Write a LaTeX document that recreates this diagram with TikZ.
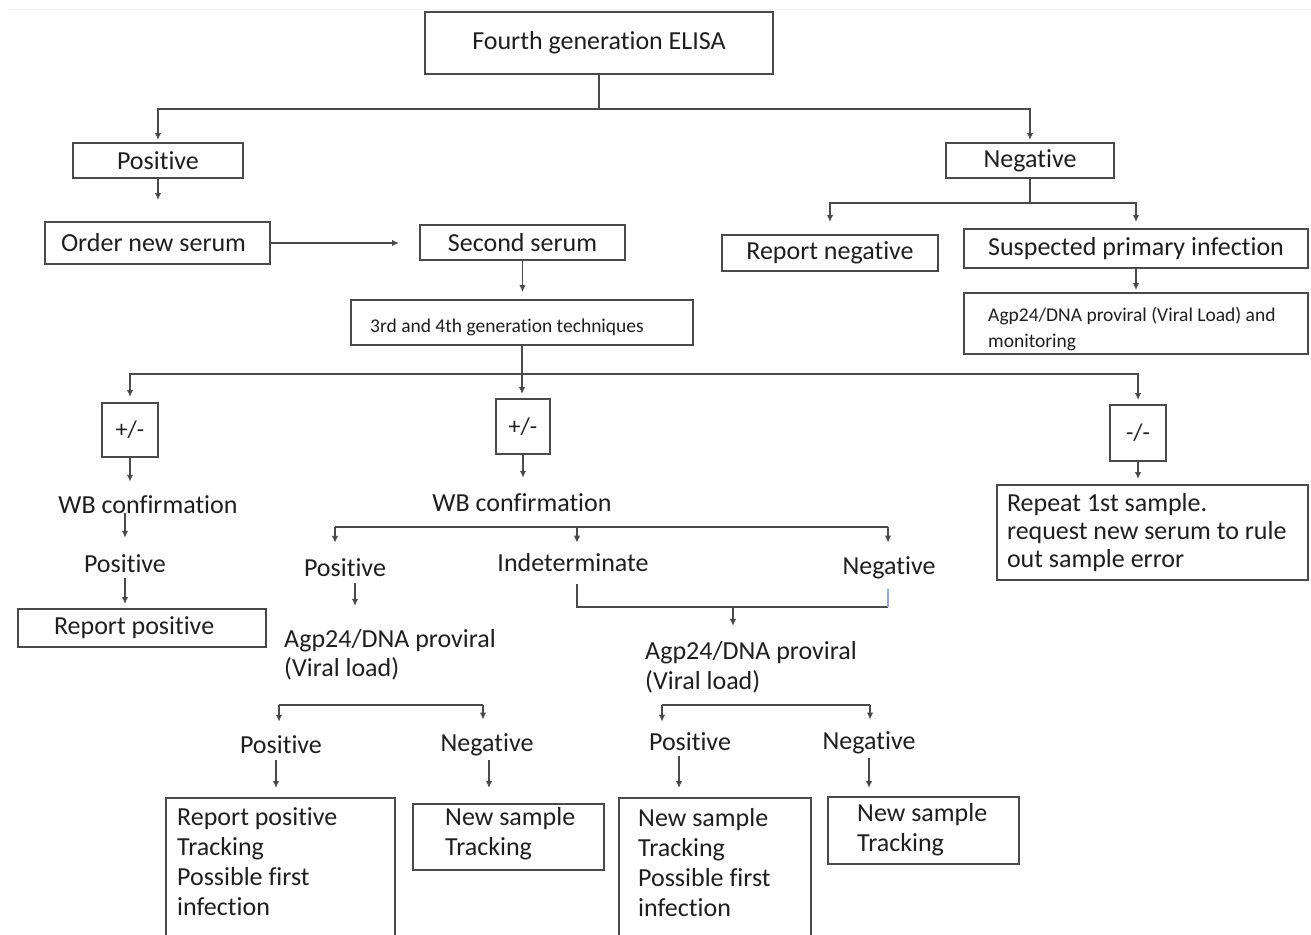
\documentclass[tikz,border=0pt]{standalone}
\usepackage{fontspec}
\setmainfont{Carlito}[Ligatures={NoCommon}]
\usetikzlibrary{arrows.meta,calc}
\definecolor{ink}{HTML}{1E1E1E}
\definecolor{edge}{HTML}{4A4A4A}
\definecolor{linkblue}{HTML}{8EA9DB}
% keep the font's own word spacing inside fixed-width nodes
\newcommand\natspace{\spaceskip=0pt\xspaceskip=0pt\relax}

\begin{document}
\begin{tikzpicture}[x=1pt,y=-1pt,
  every node/.style={text=ink, font=\fontsize{26}{30}\selectfont},
  box/.style={draw=edge, line width=1.9pt, inner sep=0pt},
  lbl/.style={inner sep=2pt},
  small/.style={font=\fontsize{19.5}{26}\selectfont},
  line/.style={draw=edge, line width=1.8pt},
  arr/.style={line, -{Latex[length=7pt,width=6.5pt]}},
]
\useasboundingbox (0,0) rectangle (1311,934);
\clip (0,0) rectangle (1311,934);
\draw[black!6, line width=1pt] (8,10) -- (1311,10);

% ---------- first screening ----------
\node[box, minimum width=348pt, minimum height=62pt] (elisa) at (599,43) {Fourth generation ELISA};
\node[box, minimum width=170pt, minimum height=35pt] (pos1) at (158,160.5) {Positive};
\node[box, minimum width=168pt, minimum height=35pt] (neg1) at (1030,160.5) {Negative};
\node[box, minimum width=225pt, minimum height=42pt, text width=193pt, align=left] (order) at (157.5,243) {\natspace Order new serum};
\node[box, minimum width=205pt, minimum height=35pt] (second) at (522.5,242.5) {Second serum};
\node[box, minimum width=342pt, minimum height=45pt] (tech) at (522,322.5) {};
\node[lbl, small, anchor=west] (techt) at (368,327) {3rd and 4th generation techniques};

% ---------- negative branch ----------
\node[box, minimum width=216pt, minimum height=36pt] (repneg) at (830,253) {Report negative};
\node[box, minimum width=344pt, minimum height=39pt] (susp) at (1136,248.5) {Suspected primary infection};
\node[box, minimum width=344pt, minimum height=61pt] (agpA) at (1136,323.5) {};
\node[lbl, small, anchor=north west, align=left] (agpAt) at (986,305) {Agp24/DNA proviral (Viral Load) and\\monitoring};

% ---------- second serum results ----------
\node[box, font=\fontsize{24}{28}\selectfont, minimum width=56pt, minimum height=54pt] (pmA) at (130,430) {+/-};
\node[box, font=\fontsize{24}{28}\selectfont, minimum width=54pt, minimum height=55pt] (pmB) at (523,426.5) {+/-};
\node[box, font=\fontsize{24}{28}\selectfont, minimum width=56pt, minimum height=56pt] (mm) at (1138,433) {-/-};

\node[lbl] (wbA) at (148,505) {WB confirmation};
\node[lbl] (wbB) at (522,503) {WB confirmation};
\node[box, font=\fontsize{26}{28}\selectfont, minimum width=311pt, minimum height=95pt, text width=291pt, align=left] (repeat) at (1152.5,532.5) {\natspace Repeat 1st sample.\\request new serum to rule\\out sample error};

% left column
\node[lbl] (posA) at (125,564) {Positive};
\node[box, minimum width=248pt, minimum height=38pt, text width=176pt, align=left] (reppos) at (142,628) {\natspace Report positive};

% middle column
\node[lbl] (posB) at (345,568) {Positive};
\node[lbl] (ind) at (573,563) {Indeterminate};
\node[lbl] (negB) at (889,568) {Negative};
\node[lbl, anchor=west, align=left, font=\fontsize{26}{29}\selectfont] (agpB) at (282,654.5) {Agp24/DNA proviral\\(Viral load)};
\node[lbl, anchor=west, align=left] (agpC) at (643,667) {Agp24/DNA proviral\\(Viral load)};

\node[lbl] (posC) at (281,745) {Positive};
\node[lbl] (negC) at (487,745) {Negative};
\node[lbl] (posD) at (690,742) {Positive};
\node[lbl] (negD) at (869,743) {Negative};

% result boxes
\node[box, anchor=north west, minimum width=229pt, minimum height=200pt] (c1) at (165,797) {};
\node[lbl, anchor=north west, align=left] (c1t) at (175,805.5) {Report positive\\Tracking\\Possible first\\infection};
\node[box, anchor=north west, minimum width=191pt, minimum height=66pt] (c2) at (412,803) {};
\node[lbl, anchor=north west, align=left] (c2t) at (443,805.5) {New sample\\Tracking};
\node[box, anchor=north west, minimum width=192pt, minimum height=200pt] (d1) at (618,797) {};
\node[lbl, anchor=north west, align=left] (d1t) at (636,806.5) {New sample\\Tracking\\Possible first\\infection};
\node[box, anchor=north west, minimum width=191pt, minimum height=67pt] (d2) at (827,796) {};
\node[lbl, anchor=north west, align=left] (d2t) at (855,801.5) {New sample\\Tracking};

% ---------- connectors ----------
\draw[arr, shorten >=2pt] (elisa.south) -- ++(0,34) -| (pos1.north);
\draw[arr, shorten >=2pt] (elisa.south) -- ++(0,34) -| (neg1.north);
\draw[arr, shorten >=21pt] (pos1.south) -- (pos1.south |- order.north);
\draw[arr, shorten >=20pt] (order.east) -- (order.east -| second.west);
\draw[arr, shorten >=7pt] (second.south) -- (second.south |- tech.north);

\draw[line] (neg1.south) -- ++(0,24) coordinate (hubN);
\draw[arr, shorten >=12pt] (hubN) -| (repneg.north);
\draw[arr, shorten >=6pt] (hubN) -| (susp.north);
\draw[arr, shorten >=2pt] (susp.south) -- (susp.south |- agpA.north);

\draw[line] (tech.south) -- ++(0,28) coordinate (hub1);
\draw[arr, shorten >=5pt] (hub1) -| (pmA.north);
\draw[arr, shorten >=4pt] (hub1) -- (hub1 |- pmB.north);
\draw[arr, shorten >=4pt] (hub1) -| (mm.north);

\draw[arr, shorten >=12pt] (pmA.south) -- (pmA.south |- wbA.north);
\draw[arr, shorten >=14pt] (pmB.south) -- (pmB.south |- wbB.north);
\draw[arr, shorten >=5pt] (mm.south) -- (mm.south |- repeat.north);

\draw[arr, shorten <=-3pt, shorten >=15pt] (posA.north |- wbA.south) -- (posA.north);
\draw[arr, shorten <=3pt, shorten >=4pt] (posA.south) -- (posA.south |- reppos.north);

% WB confirmation outcomes
\coordinate (b2l) at (335,527);
\coordinate (b2m) at (577,527);
\coordinate (b2r) at (888,527);
\draw[line] (b2l) -- (b2r);
\draw[arr, shorten >=14pt] (b2l) -- (b2l |- posB.north);
\draw[arr, shorten >=9pt] (b2m) -- (b2m |- ind.north);
\draw[arr, shorten >=12pt] (b2r) -- (b2r |- negB.north);

\draw[arr, shorten <=4pt, shorten >=21pt] ($(posB.south)+(10,0)$) -- ($(posB.south |- agpB.north)+(10,0)$);

\coordinate (jn) at (888,607);
\coordinate (jm) at (733,607);
\draw[line, shorten <=10pt] ($(ind.south)+(4,0)$) |- (jn);
\draw[line, draw=linkblue, line width=1.2pt, shorten <=8pt] (negB.south -| jn) -- (jn);
\draw[arr, shorten >=13pt] (jm) -- (jm |- agpC.north);

% viral load outcomes
\coordinate (b3l) at (279,705);
\coordinate (b3r) at (483,705);
\draw[line] (b3l) -- (b3r);
\draw[arr, shorten >=12pt] (b3l) -- (b3l |- posC.north);
\draw[arr, shorten >=12pt] (b3r) -- (b3r |- negC.north);
\coordinate (b4l) at (662,705);
\coordinate (b4r) at (870,705);
\draw[line] (b4l) -- (b4r);
\draw[arr, shorten >=9pt] (b4l) -- (b4l |- posD.north);
\draw[arr, shorten >=10pt] (b4r) -- (b4r |- negD.north);

\draw[arr, shorten <=4pt, shorten >=9pt] ($(posC.south)+(-5,0)$) -- ($(posC.south |- c1.north)+(-5,0)$);
\draw[arr, shorten <=2pt, shorten >=15pt] ($(negC.south)+(2,0)$) -- ($(negC.south |- c2.north)+(2,0)$);
\draw[arr, shorten <=3pt, shorten >=9pt] ($(posD.south)+(-11,0)$) -- ($(posD.south |- d1.north)+(-11,0)$);
\draw[arr, shorten <=2pt, shorten >=8pt] (negD.south) -- (negD.south |- d2.north);
\end{tikzpicture}
\end{document}
